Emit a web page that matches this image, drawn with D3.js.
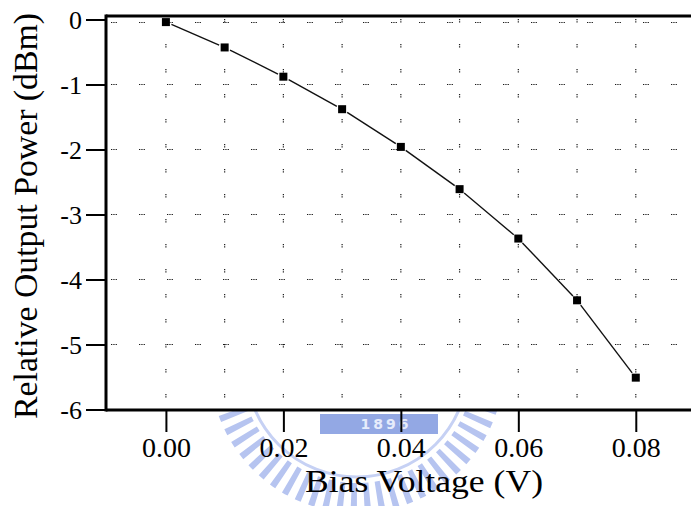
<!DOCTYPE html>
<html>
<head>
<meta charset="utf-8">
<script src="https://cdn.jsdelivr.net/npm/d3@7/dist/d3.min.js"></script>
<style>
  html, body { margin: 0; padding: 0; background: #fff; }
  svg { display: block; }
  text { font-family: "Liberation Serif", "Times New Roman", serif; fill: #000; }
</style>
</head>
<body>
<svg id="chart" width="691" height="506"></svg>
<script>
// ---- data ----
const biasVoltage = [0.00, 0.01, 0.02, 0.03, 0.04, 0.05, 0.06, 0.07, 0.08];
const relativePower = [-0.04, -0.43, -0.88, -1.38, -1.96, -2.61, -3.37, -4.32, -5.51];
const xTickValues = [0.00, 0.02, 0.04, 0.06, 0.08];
const xGridValues = [0.00, 0.01, 0.02, 0.03, 0.04, 0.05, 0.06, 0.07, 0.08];
const yTickValues = [0, -1, -2, -3, -4, -5, -6];
const xTitle = "Bias Voltage (V)";
const yTitle = "Relative Output Power (dBm)";
const watermarkText = "1896";

// ---- layout ----
const W = 691, H = 506;
const frameLeft = 106, frameRight = 691, frameTop = 16, frameBottom = 410;
const serif = "Liberation Serif";

const svg = d3.select("#chart");

const x = d3.scaleLinear().domain([-0.0102, 0.0894]).range([frameLeft, frameRight]);
const y = d3.scaleLinear().domain([-6, 0]).range([409.5, 19.5]);

// ---- watermark (below the plot frame) ----
const clip = svg.append("defs").append("clipPath").attr("id", "wmclip");
clip.append("rect").attr("x", 0).attr("y", frameBottom + 1).attr("width", W).attr("height", H - frameBottom);
const wm = svg.append("g").attr("clip-path", "url(#wmclip)");
const cx = 357, cy = 366;
const rT = 132, circ = 2 * Math.PI * rT, nTeeth = 64;
wm.append("circle").attr("cx", cx).attr("cy", cy).attr("r", rT)
  .attr("fill", "none").attr("stroke", "#b6c4f0").attr("stroke-width", 30)
  .attr("stroke-dasharray", `${circ / nTeeth * 0.45} ${circ / nTeeth * 0.55}`);
wm.append("circle").attr("cx", cx).attr("cy", cy).attr("r", 111)
  .attr("fill", "none").attr("stroke", "#c6d1f4").attr("stroke-width", 3);
wm.append("rect").attr("x", 320).attr("y", 414).attr("width", 118).attr("height", 20)
  .attr("fill", "#93a8e4");
wm.append("text").attr("x", 386).attr("y", 428.5).attr("text-anchor", "middle")
  .attr("font-family", "DejaVu Sans").attr("font-weight", "bold")
  .attr("font-size", 14).attr("letter-spacing", 3)
  .style("font-family", "'DejaVu Sans', sans-serif").style("fill", "#e6ecfb")
  .text(watermarkText);

// ---- grid ----
const grid = svg.append("g");
grid.selectAll("line.vg").data(xGridValues).join("line")
  .attr("x1", d => x(d)).attr("x2", d => x(d))
  .attr("y1", frameTop + 3).attr("y2", frameBottom - 2)
  .attr("stroke", "#1a1a1a").attr("stroke-width", 1.2)
  .attr("stroke-dasharray", "1.3 1 1.3 21.4");
grid.selectAll("line.hg").data(yTickValues.filter(v => v > -6)).join("line")
  .attr("x1", frameLeft + 5).attr("x2", frameRight)
  .attr("y1", d => y(d) + (d === 0 ? 3 : 0)).attr("y2", d => y(d) + (d === 0 ? 3 : 0))
  .attr("stroke", "#1a1a1a").attr("stroke-width", 1.2)
  .attr("stroke-dasharray", "1.3 1 1.3 1 1.3 22.1");

// ---- axes ----
const yAxis = d3.axisLeft(y).tickValues(yTickValues).tickSize(20).tickPadding(4)
  .tickFormat(d => String(d));
const gy = svg.append("g").attr("transform", `translate(${frameLeft},0)`).call(yAxis)
  .attr("font-family", serif).attr("font-size", 26);
gy.select(".domain").remove();
gy.selectAll(".tick line").attr("stroke", "#000").attr("stroke-width", 2);
gy.selectAll(".tick text").attr("font-family", serif).attr("font-size", 26)
  .style("font-family", serif).style("font-size", "26px").attr("dy", "0.34em");

const xAxis = d3.axisBottom(x).tickValues(xTickValues).tickSize(22).tickPadding(3)
  .tickFormat(d3.format(".2f"));
const gx = svg.append("g").attr("transform", `translate(0,${frameBottom})`).call(xAxis)
  .attr("font-family", serif).attr("font-size", 28);
gx.select(".domain").remove();
gx.selectAll(".tick line").attr("stroke", "#000").attr("stroke-width", 2);
gx.selectAll(".tick text").attr("font-family", serif).attr("font-size", 28)
  .style("font-family", serif).style("font-size", "28px").attr("dy", "0.78em");

// ---- frame ----
svg.append("line").attr("x1", frameLeft).attr("x2", frameRight).attr("y1", frameTop).attr("y2", frameTop)
  .attr("stroke", "#000").attr("stroke-width", 3);
svg.append("line").attr("x1", frameLeft).attr("x2", frameLeft).attr("y1", frameTop - 1.5).attr("y2", frameBottom + 1.5)
  .attr("stroke", "#000").attr("stroke-width", 3);
svg.append("line").attr("x1", frameLeft).attr("x2", frameRight).attr("y1", frameBottom).attr("y2", frameBottom)
  .attr("stroke", "#000").attr("stroke-width", 3);

// ---- series line with gaps at markers ----
const pts = biasVoltage.map((v, i) => [x(v), y(relativePower[i])]);
const gap = 6;
const segs = d3.pairs(pts).map(([a, b]) => {
  const dx = b[0] - a[0], dy = b[1] - a[1], L = Math.hypot(dx, dy);
  const ux = dx / L, uy = dy / L;
  return [a[0] + ux * gap, a[1] + uy * gap, b[0] - ux * gap, b[1] - uy * gap];
});
svg.append("g").selectAll("line").data(segs).join("line")
  .attr("x1", d => d[0]).attr("y1", d => d[1]).attr("x2", d => d[2]).attr("y2", d => d[3])
  .attr("stroke", "#111").attr("stroke-width", 1.4);

svg.append("g").selectAll("rect").data(pts).join("rect")
  .attr("x", d => d[0] - 4).attr("y", d => d[1] - 4)
  .attr("width", 8).attr("height", 8).attr("fill", "#000");

// ---- titles ----
svg.append("text").attr("x", 424).attr("y", 492).attr("text-anchor", "middle")
  .attr("font-family", serif).attr("font-size", 32)
  .attr("textLength", 238).attr("lengthAdjust", "spacingAndGlyphs")
  .text(xTitle);
svg.append("text").attr("transform", "translate(37,216) rotate(-90)").attr("text-anchor", "middle")
  .attr("font-family", serif).attr("font-size", 33)
  .attr("textLength", 406).attr("lengthAdjust", "spacingAndGlyphs")
  .text(yTitle);
</script>
</body>
</html>
